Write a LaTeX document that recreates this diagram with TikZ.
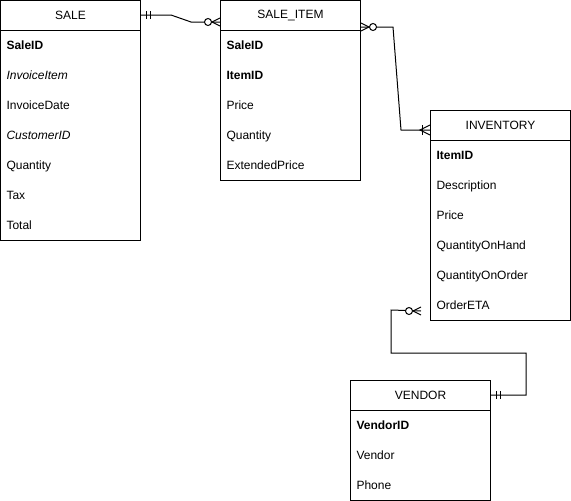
\documentclass[tikz,border=0pt]{standalone}
\usepackage{fontspec}
\setmainfont{Liberation Sans}
\begin{document}
\begin{tikzpicture}[x=1pt,y=-1pt,line width=1pt,
  font=\fontsize{12}{14}\selectfont,
  tbl/.style={draw,anchor=north west,minimum width=140pt,inner sep=0pt},
  hdr/.style={draw,anchor=north west,minimum width=140pt,minimum height=30pt,inner sep=0pt},
  row/.style={anchor=base west,inner sep=0pt,yshift=-4.3pt},
  mone/.pic={\draw (5,-4)--(5,4) (9,-4)--(9,4);},
  zmany/.pic={\draw (0,-4)--(8,0)--(0,4); \draw[fill=white] (12,0) circle[radius=3.5];},
  omany/.pic={\draw (0,-5)--(10,0)--(0,5); \draw (8,-5)--(8,5);}
]
\useasboundingbox (0,0) rectangle (571,501);
% SALE
\node[tbl,minimum height=240pt] (sale) at (0,0) {};
\node[hdr] (saleh) at (0,0) {SALE};
\node[row] (sale1) at (6,45) {\textbf{SaleID}};
\node[row] (sale2) at (6,75) {\textit{InvoiceItem}};
\node[row] (sale3) at (6,105) {InvoiceDate};
\node[row] (sale4) at (6,135) {\textit{CustomerID}};
\node[row] (sale5) at (6,165) {Quantity};
\node[row] (sale6) at (6,195) {Tax};
\node[row] (sale7) at (6,225) {Total};
% SALE_ITEM
\node[tbl,minimum height=180pt] (si) at (220,0) {};
\node[hdr] (sih) at (220,0) {SALE\_ITEM};
\node[row] (si1) at (226,45) {\textbf{SaleID}};
\node[row] (si2) at (226,75) {\textbf{ItemID}};
\node[row] (si3) at (226,105) {Price};
\node[row] (si4) at (226,135) {Quantity};
\node[row] (si5) at (226,165) {ExtendedPrice};
% INVENTORY
\node[tbl,minimum height=210pt] (inv) at (430,110) {};
\node[hdr] (invh) at (430,110) {INVENTORY};
\node[row] (inv1) at (436,155) {\textbf{ItemID}};
\node[row] (inv2) at (436,185) {Description};
\node[row] (inv3) at (436,215) {Price};
\node[row] (inv4) at (436,245) {QuantityOnHand};
\node[row] (inv5) at (436,275) {QuantityOnOrder};
\node[row] (inv6) at (436,305) {OrderETA};
% VENDOR
\node[tbl,minimum height=120pt] (ven) at (350,380) {};
\node[hdr] (venh) at (350,380) {VENDOR};
\node[row] (ven1) at (356,425) {\textbf{VendorID}};
\node[row] (ven2) at (356,455) {Vendor};
\node[row] (ven3) at (356,485) {Phone};
% connectors
\draw ([yshift=-15pt]sale.north east) -- ++(30,0) -- ++(20,7) -- ([yshift=-22pt]si.north west);
\pic at ([yshift=-15pt]sale.north east) {mone};
\pic[rotate=180] at ([yshift=-22pt]si.north west) {zmany};
\draw ([yshift=-27pt]si.north east) -- ++(32,0) -- ++(8,103) -- ([yshift=-20pt]inv.north west);
\pic at ([yshift=-27pt]si.north east) {zmany};
\pic[rotate=180] at ([yshift=-20pt]inv.north west) {omany};
\coordinate (invend) at ([xshift=-9pt,yshift=10pt]inv.south west);
\draw ([yshift=-15pt]ven.north east) -- ++(35,0) -- ++(0,-42) -- ++(-135,0) -- ++(0,-43) -- (invend);
\pic at ([yshift=-15pt]ven.north east) {mone};
\pic[rotate=180] at (invend) {zmany};
\end{tikzpicture}
\end{document}
